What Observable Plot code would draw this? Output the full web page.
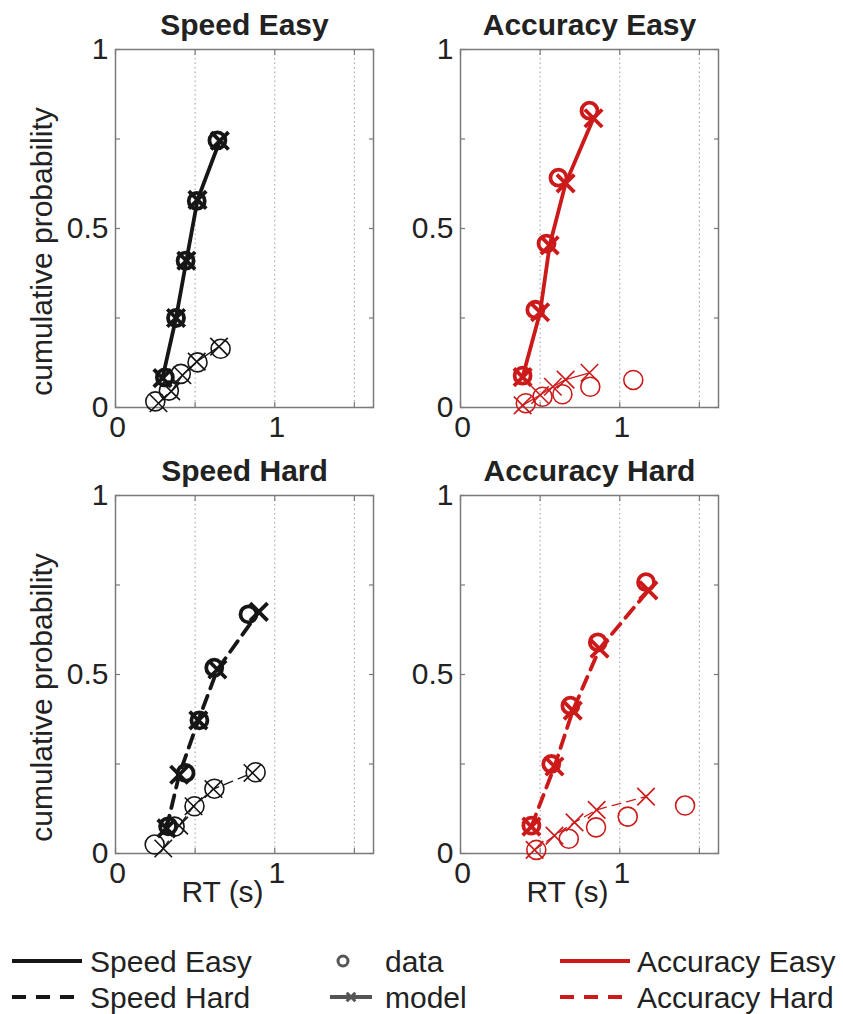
<!DOCTYPE html>
<html><head><meta charset="utf-8">
<script src="https://cdn.jsdelivr.net/npm/d3@7"></script>
<script src="https://cdn.jsdelivr.net/npm/@observablehq/plot@0.6"></script>
<style>
body{margin:0;background:#fff;}
#wrap{position:relative;width:843px;height:1014px;font-family:"Liberation Sans",Arial,sans-serif;overflow:hidden;}
</style></head><body><div id="wrap"></div>
<script>
// ---- data (RT in s, cumulative probability) ----
const panelTitles = ["Speed Easy", "Accuracy Easy", "Speed Hard", "Accuracy Hard"];
const xTickLabels = [0, 1];
const yTickLabels = [0, 0.5, 1];

// Speed Easy
const seDataCorrRT = [0.31, 0.38, 0.44, 0.51, 0.64];
const seDataCorrP  = [0.084, 0.25, 0.41, 0.577, 0.746];
const seModCorrRT  = [0.295, 0.38, 0.445, 0.515, 0.655];
const seModCorrP   = [0.082, 0.25, 0.41, 0.58, 0.745];
const seDataErrRT  = [0.25, 0.335, 0.41, 0.515, 0.66];
const seDataErrP   = [0.017, 0.047, 0.094, 0.126, 0.164];
const seModErrRT   = [0.27, 0.35, 0.42, 0.51, 0.65];
const seModErrP    = [0.012, 0.045, 0.09, 0.128, 0.17];

// Accuracy Easy
const aeDataCorrRT = [0.39, 0.47, 0.54, 0.615, 0.81];
const aeDataCorrP  = [0.089, 0.273, 0.458, 0.642, 0.829];
const aeModCorrRT  = [0.39, 0.50, 0.56, 0.66, 0.835];
const aeModCorrP   = [0.085, 0.266, 0.453, 0.626, 0.808];
const aeDataErrRT  = [0.41, 0.515, 0.64, 0.815, 1.085];
const aeDataErrP   = [0.012, 0.03, 0.037, 0.058, 0.077];
const aeModErrRT   = [0.39, 0.50, 0.58, 0.66, 0.81];
const aeModErrP    = [0.006, 0.035, 0.058, 0.078, 0.097];

// Speed Hard
const shDataCorrRT = [0.33, 0.44, 0.527, 0.62, 0.835];
const shDataCorrP  = [0.076, 0.225, 0.372, 0.519, 0.668];
const shModCorrRT  = [0.32, 0.40, 0.52, 0.64, 0.90];
const shModCorrP   = [0.07, 0.22, 0.372, 0.514, 0.675];
const shDataErrRT  = [0.246, 0.371, 0.496, 0.621, 0.88];
const shDataErrP   = [0.025, 0.075, 0.132, 0.181, 0.227];
const shModErrRT   = [0.30, 0.40, 0.49, 0.615, 0.86];
const shModErrP    = [0.014, 0.078, 0.132, 0.18, 0.225];

// Accuracy Hard
const ahDataCorrRT = [0.445, 0.57, 0.69, 0.862, 1.165];
const ahDataCorrP  = [0.078, 0.25, 0.413, 0.59, 0.758];
const ahModCorrRT  = [0.445, 0.59, 0.705, 0.873, 1.18];
const ahModCorrP   = [0.075, 0.243, 0.399, 0.572, 0.735];
const ahDataErrRT  = [0.476, 0.68, 0.851, 1.05, 1.41];
const ahDataErrP   = [0.01, 0.041, 0.073, 0.103, 0.134];
const ahModErrRT   = [0.465, 0.59, 0.716, 0.855, 1.165];
const ahModErrP    = [0.01, 0.05, 0.087, 0.122, 0.159];

const legendLeft  = ["Speed Easy", "Speed Hard"];
const legendMid   = ["data", "model"];
const legendRight = ["Accuracy Easy", "Accuracy Hard"];

// ---- styles ----
const BLACK = "#161616", RED = "#cc1a1a", AXIS = "#7a7a7a", TEXT = "#222";
const rows = (xs, ys) => xs.map((x, i) => ({rt: x, p: ys[i]}));

const panels = [
  {title: panelTitles[0], color: BLACK, dashed: false, left: 0,   top: 0,   bottom: false,
   dc: rows(seDataCorrRT, seDataCorrP), mc: rows(seModCorrRT, seModCorrP), de: rows(seDataErrRT, seDataErrP), me: rows(seModErrRT, seModErrP)},
  {title: panelTitles[1], color: RED,   dashed: false, left: 345, top: 0,   bottom: false,
   dc: rows(aeDataCorrRT, aeDataCorrP), mc: rows(aeModCorrRT, aeModCorrP), de: rows(aeDataErrRT, aeDataErrP), me: rows(aeModErrRT, aeModErrP)},
  {title: panelTitles[2], color: BLACK, dashed: true,  left: 0,   top: 446, bottom: true,
   dc: rows(shDataCorrRT, shDataCorrP), mc: rows(shModCorrRT, shModCorrP), de: rows(shDataErrRT, shDataErrP), me: rows(shModErrRT, shModErrP)},
  {title: panelTitles[3], color: RED,   dashed: true,  left: 345, top: 446, bottom: true,
   dc: rows(ahDataCorrRT, ahDataCorrP), mc: rows(ahModCorrRT, ahModCorrP), de: rows(ahDataErrRT, ahDataErrP), me: rows(ahModErrRT, ahModErrP)}
];

const wrap = document.getElementById("wrap");

for (const pn of panels) {
  const H = pn.bottom ? 480 : 446;
  const tickOpts = {tickSize: -5, tickFormat: () => "", label: null, stroke: AXIS, strokeWidth: 1.2};
  const marks = [
    Plot.gridX([0, 0.5, 1, 1.5], {stroke: "#9c9c9c", strokeOpacity: 1, strokeWidth: 1, strokeDasharray: "1.5,3"}),
    Plot.axisX({...tickOpts, ticks: [0, 0.5, 1, 1.5], anchor: "bottom"}),
    Plot.axisX({...tickOpts, ticks: [0, 0.5, 1, 1.5], anchor: "top"}),
    Plot.axisY({...tickOpts, ticks: [0, 0.25, 0.5, 0.75, 1], anchor: "left"}),
    Plot.axisY({...tickOpts, ticks: [0, 0.25, 0.5, 0.75, 1], anchor: "right"}),
    Plot.frame({stroke: AXIS, strokeWidth: 1.5}),
    Plot.axisX({ticks: xTickLabels, tickSize: 0, tickPadding: 8, label: null, tickFormat: d => String(d), fill: TEXT, dx: 2}),
    Plot.axisY({ticks: yTickLabels, tickSize: 0, tickPadding: 7, label: null, tickFormat: d => String(d), fill: TEXT}),
    // error (thin)
    Plot.line(pn.me, {x: "rt", y: "p", stroke: pn.color, strokeWidth: 1.3, strokeDasharray: pn.dashed ? "9,6" : null}),
    Plot.dot(pn.de, {x: "rt", y: "p", r: 9.5, stroke: pn.color, strokeWidth: 1.6, fill: "none"}),
    Plot.dot(pn.me, {x: "rt", y: "p", r: 8, symbol: "times", stroke: pn.color, strokeWidth: 1.6}),
    // correct (thick)
    Plot.line(pn.mc, {x: "rt", y: "p", stroke: pn.color, strokeWidth: 3.8, strokeDasharray: pn.dashed ? "13,8" : null}),
    Plot.dot(pn.dc, {x: "rt", y: "p", r: 8, stroke: pn.color, strokeWidth: 3.8, fill: "none"}),
    Plot.dot(pn.mc, {x: "rt", y: "p", r: 8, symbol: "times", stroke: pn.color, strokeWidth: 3.8}),
    // title
    Plot.text([pn.title], {frameAnchor: "top", dy: -24, fontSize: 30, fontWeight: "bold", lineAnchor: "middle", fill: TEXT})
  ];
  if (pn.left === 0) {
    marks.push(Plot.text(["cumulative probability"], {frameAnchor: "left", textAnchor: "middle", rotate: -90, dx: -73, dy: 23, fontSize: 30, lineAnchor: "middle", fill: TEXT}));
  }
  if (pn.bottom) {
    marks.push(Plot.text(["RT (s)"], {frameAnchor: "bottom", textAnchor: "middle", dy: 39, dx: -22, fontSize: 30, lineAnchor: "middle", fill: TEXT}));
  }
  const svg = Plot.plot({
    width: 400, height: H,
    marginLeft: 115, marginRight: 27, marginTop: 49, marginBottom: H - 49 - 358,
    x: {domain: [0, 1.62]},
    y: {domain: [0, 1]},
    style: {fontSize: "30px", fontFamily: '"Liberation Sans", Arial, sans-serif', background: "transparent", color: TEXT, overflow: "visible"},
    marks
  });
  svg.style.position = "absolute";
  svg.style.left = pn.left + "px";
  svg.style.top = pn.top + "px";
  wrap.appendChild(svg);
}

// ---- legend ----
const lg = d3.create("svg").attr("width", 843).attr("height", 88)
  .style("position", "absolute").style("left", "0px").style("top", "926px")
  .style("font-family", '"Liberation Sans", Arial, sans-serif').style("font-size", "30px");
const rowLine = [35, 71], rowText = [46, 82];
legendLeft.forEach((t, i) => {
  lg.append("line").attr("x1", 12).attr("x2", 82).attr("y1", rowLine[i]).attr("y2", rowLine[i])
    .attr("stroke", BLACK).attr("stroke-width", 4).attr("stroke-dasharray", i ? "14,10" : null);
  lg.append("text").attr("x", 90).attr("y", rowText[i]).attr("fill", TEXT).text(t);
});
legendRight.forEach((t, i) => {
  lg.append("line").attr("x1", 560).attr("x2", 630).attr("y1", rowLine[i]).attr("y2", rowLine[i])
    .attr("stroke", RED).attr("stroke-width", 4).attr("stroke-dasharray", i ? "14,10" : null);
  lg.append("text").attr("x", 637).attr("y", rowText[i]).attr("fill", TEXT).text(t);
});
lg.append("circle").attr("cx", 343).attr("cy", rowLine[0]).attr("r", 5).attr("fill", "none").attr("stroke", "#555").attr("stroke-width", 3);
lg.append("line").attr("x1", 330).attr("x2", 372).attr("y1", rowLine[1]).attr("y2", rowLine[1]).attr("stroke", "#555").attr("stroke-width", 4);
lg.append("path").attr("transform", `translate(351,${rowLine[1]})`).attr("d", d3.symbol(d3.symbolTimes, 50)()).attr("fill", "none").attr("stroke", "#555").attr("stroke-width", 3);
legendMid.forEach((t, i) => {
  lg.append("text").attr("x", 385).attr("y", rowText[i]).attr("fill", TEXT).text(t);
});
wrap.appendChild(lg.node());
</script>
</body></html>
